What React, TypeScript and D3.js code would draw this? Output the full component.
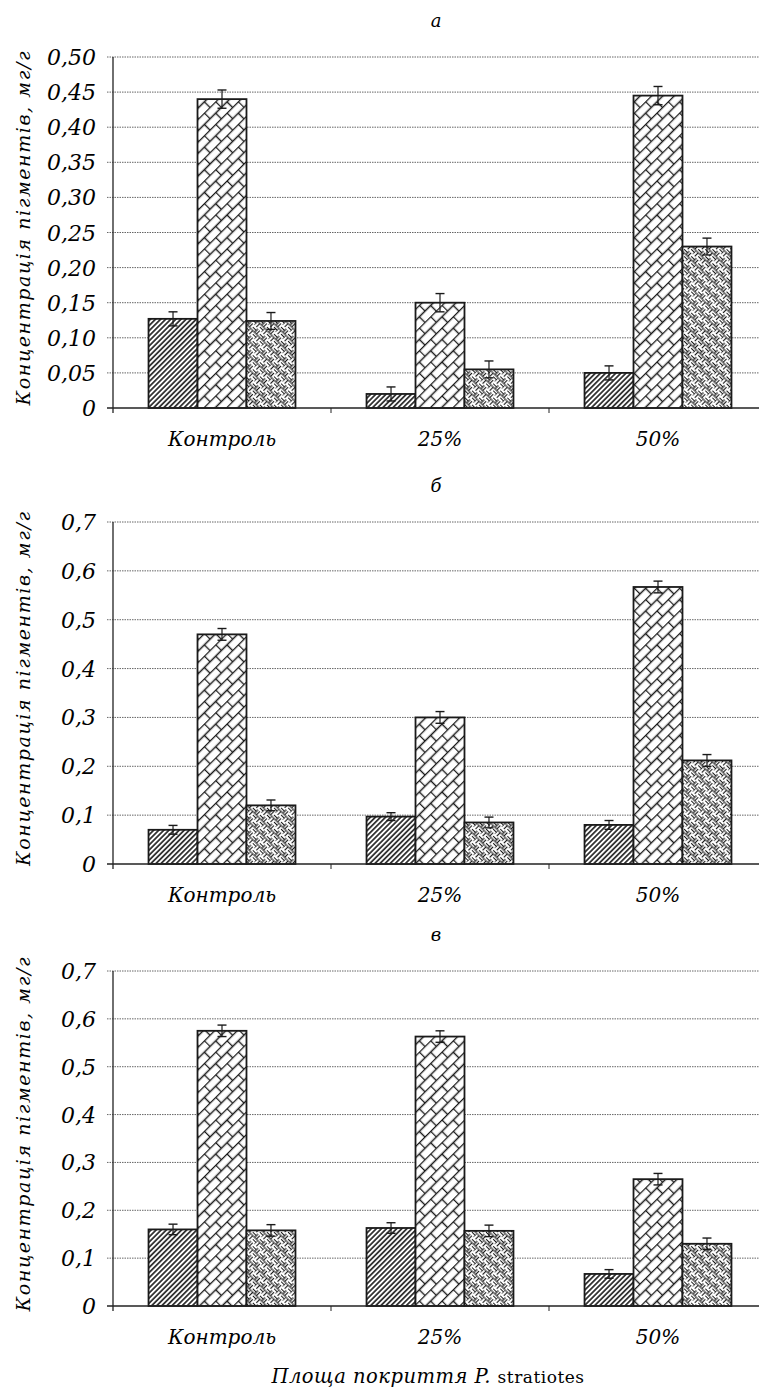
import * as d3 from "d3";

const categories = ["Контроль", "25%", "50%"];
const series = ["s1", "s2", "s3"];
const letters = ["а", "б", "в"];

// values per category: [hatch, brick, weave]
const valuesA = [
  [0.127, 0.44, 0.124],
  [0.02, 0.15, 0.055],
  [0.05, 0.445, 0.23],
];
const errorsA = [
  [0.01, 0.013, 0.012],
  [0.01, 0.013, 0.012],
  [0.01, 0.013, 0.012],
];
const valuesB = [
  [0.07, 0.47, 0.12],
  [0.097, 0.3, 0.085],
  [0.08, 0.567, 0.212],
];
const errorsB = [
  [0.009, 0.012, 0.011],
  [0.008, 0.012, 0.011],
  [0.009, 0.012, 0.012],
];
const valuesC = [
  [0.16, 0.575, 0.158],
  [0.163, 0.563, 0.157],
  [0.067, 0.265, 0.13],
];
const errorsC = [
  [0.011, 0.012, 0.012],
  [0.011, 0.012, 0.012],
  [0.009, 0.012, 0.012],
];

const ticksA = [0, 0.05, 0.1, 0.15, 0.2, 0.25, 0.3, 0.35, 0.4, 0.45, 0.5];
const tickLabelsA = ["0", "0,05", "0,10", "0,15", "0,20", "0,25", "0,30", "0,35", "0,40", "0,45", "0,50"];
const ticksBC = [0, 0.1, 0.2, 0.3, 0.4, 0.5, 0.6, 0.7];
const tickLabelsBC = ["0", "0,1", "0,2", "0,3", "0,4", "0,5", "0,6", "0,7"];

const yTitle = "Концентрація пігментів, мг/г";
const xTitle = "Площа покриття P. ";
const xTitleLatin = "stratiotes";

const W = 759;
const H = 1390;
const left = 113;
const right = 767;
const serif = "DejaVu Serif";
const it = { fontFamily: serif, fontStyle: "italic" as const };

const panels = [
  { letter: letters[0], top: 57, bottom: 408, values: valuesA, errors: errorsA, ticks: ticksA, labels: tickLabelsA },
  { letter: letters[1], top: 522, bottom: 864, values: valuesB, errors: errorsB, ticks: ticksBC, labels: tickLabelsBC },
  { letter: letters[2], top: 971, bottom: 1306, values: valuesC, errors: errorsC, ticks: ticksBC, labels: tickLabelsBC },
];

const fills = ["url(#hatch)", "url(#brick)", "url(#weave)"];

function Panel({ p }: { p: (typeof panels)[number] }) {
  const x0 = d3.scaleBand<string>().domain(categories).range([left, right]).paddingInner(0.326).paddingOuter(0.163);
  const x1 = d3.scaleBand<string>().domain(series).range([0, x0.bandwidth()]);
  const maxV = p.ticks[p.ticks.length - 1];
  const y = d3.scaleLinear().domain([0, maxV]).range([p.bottom, p.top]);
  const step = x0.step();
  const mid = (p.top + p.bottom) / 2;

  return (
    <g>
      <text x={436} y={p.top - 30} textAnchor="middle" fontSize={18} style={it}>
        {p.letter}
      </text>
      {p.ticks.slice(1).map((t) => (
        <line key={t} x1={107} x2={W} y1={y(t)} y2={y(t)} stroke="#666" strokeWidth={1} strokeDasharray="1.5 1" />
      ))}
      {p.ticks.map((t, i) => (
        <text key={t} x={96} y={y(t) + 8} textAnchor="end" fontSize={22} style={it}>
          {p.labels[i]}
        </text>
      ))}
      <text
        transform={`translate(30,${mid - 4}) rotate(-90)`}
        textAnchor="middle"
        fontSize={19}
        style={it}
        textLength={354}
        lengthAdjust="spacing"
      >
        {yTitle}
      </text>
      {categories.map((c, ci) => (
        <g key={c}>
          {series.map((s, si) => {
            const v = p.values[ci][si];
            const e = p.errors[ci][si];
            const bx = (x0(c) ?? 0) + (x1(s) ?? 0);
            const bw = x1.bandwidth();
            const cx = bx + bw / 2;
            return (
              <g key={s}>
                <rect x={bx} y={y(v)} width={bw} height={p.bottom - y(v)} fill="#fff" />
                <rect
                  x={bx}
                  y={y(v)}
                  width={bw}
                  height={p.bottom - y(v)}
                  fill={fills[si]}
                  stroke="#1a1a1a"
                  strokeWidth={1.8}
                />
                <line x1={cx} x2={cx} y1={y(v + e)} y2={y(v - e)} stroke="#1a1a1a" strokeWidth={1.2} />
                <line x1={cx - 4.5} x2={cx + 4.5} y1={y(v + e)} y2={y(v + e)} stroke="#1a1a1a" strokeWidth={1.4} />
                <line x1={cx - 4.5} x2={cx + 4.5} y1={y(v - e)} y2={y(v - e)} stroke="#1a1a1a" strokeWidth={1.4} />
              </g>
            );
          })}
          <text x={(x0(c) ?? 0) + x0.bandwidth() / 2} y={p.bottom + 38} textAnchor="middle" fontSize={20} style={it}>
            {c}
          </text>
        </g>
      ))}
      <line x1={left} x2={left} y1={p.top} y2={p.bottom + 5} stroke="#222" strokeWidth={1.3} />
      <line x1={107} x2={W} y1={p.bottom} y2={p.bottom} stroke="#222" strokeWidth={1.6} />
      {[1, 2].map((k) => (
        <line key={k} x1={left + k * step} x2={left + k * step} y1={p.bottom} y2={p.bottom + 5} stroke="#222" strokeWidth={1} />
      ))}
    </g>
  );
}

export default function App() {
  return (
    <svg width={W} height={H} viewBox={`0 0 ${W} ${H}`} style={{ position: "absolute", left: 0, top: 0, background: "#fff" }}>
      <defs>
        <pattern id="hatch" patternUnits="userSpaceOnUse" width={3.6} height={10} patternTransform="rotate(45)">
          <line x1={0.9} y1={0} x2={0.9} y2={10} stroke="#1a1a1a" strokeWidth={1.6} />
        </pattern>
        <pattern id="brick" patternUnits="userSpaceOnUse" width={16} height={16} patternTransform="rotate(-45)">
          <path d="M0,0.5 H16 M0,8.5 H16 M0.5,0.5 V8.5 M8.5,8.5 V16" fill="none" stroke="#1a1a1a" strokeWidth={1.4} />
        </pattern>
        <pattern id="weave" patternUnits="userSpaceOnUse" width={10} height={10} patternTransform="rotate(45)">
          <path
            d="M0,2.5 H5 M7.5,0 V5 M2.5,5 V10 M5,7.5 H10 M5,0 V5 H0 M5,5 H10 V10"
            fill="none"
            stroke="#1a1a1a"
            strokeWidth={1.15}
          />
        </pattern>
      </defs>
      <rect width={W} height={H} fill="#fff" />
      {panels.map((p) => (
        <Panel key={p.letter} p={p} />
      ))}
      <text x={428} y={1383} textAnchor="middle" fontSize={19.5} style={it} letterSpacing={0.5}>
        {xTitle}
        <tspan style={{ fontStyle: "normal" }} fontSize={17}>
          {xTitleLatin}
        </tspan>
      </text>
    </svg>
  );
}
